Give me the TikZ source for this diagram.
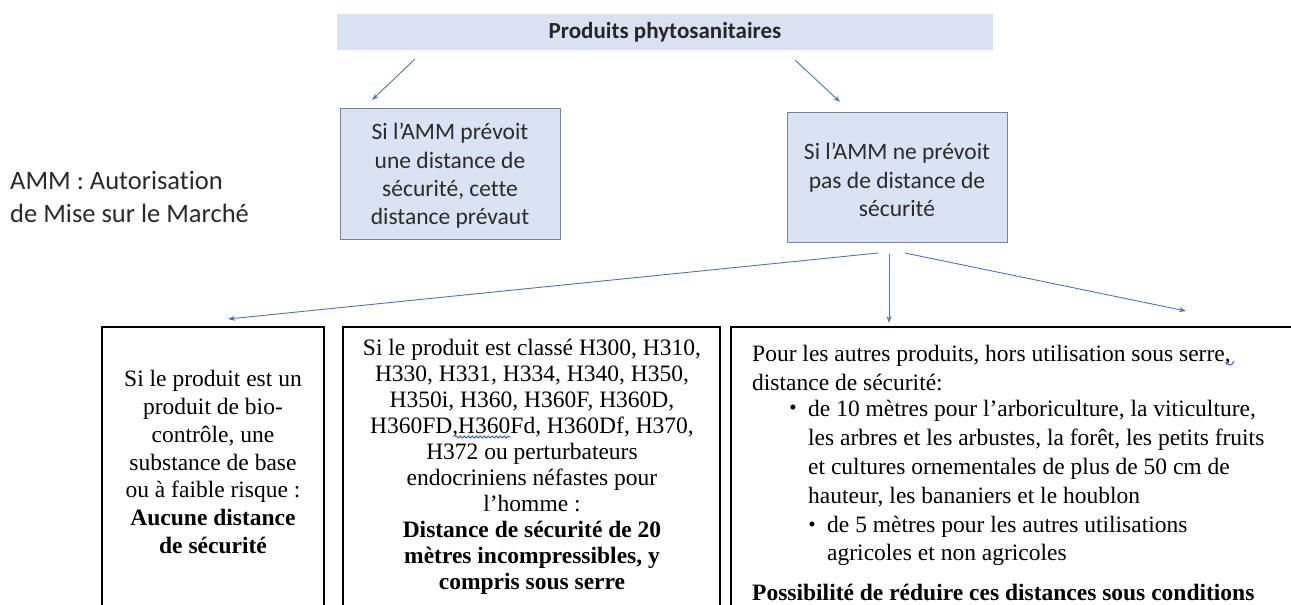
\documentclass[tikz,border=0pt]{standalone}
\usepackage{fontspec}
\setmainfont{Liberation Serif}
\newfontfamily\calib[Ligatures=NoCommon]{Carlito}
\usetikzlibrary{arrows.meta,decorations.pathmorphing}
\definecolor{boxblue}{HTML}{DAE3F3}
\definecolor{bannerblue}{HTML}{D9E1F2}
\definecolor{boxedge}{HTML}{76849A}
\definecolor{arrowc}{HTML}{5575B0}
\definecolor{sanstext}{HTML}{2A2A2A}
\definecolor{spell}{HTML}{3050D0}
\tikzset{
  arr/.style={draw=arrowc, line width=0.9pt, -{Stealth[length=7pt,width=5pt]}},
  bluebox/.style={fill=boxblue, draw=boxedge, line width=1pt},
  sanstxt/.style={inner sep=0pt, align=center, text=sanstext, font=\calib\fontsize{23.5}{28.4}\selectfont},
  serif/.style={inner sep=0pt, text=black, font=\fontsize{23.5}{27.8}\selectfont},
  tablebox/.style={draw=black, line width=1.1pt},
  squiggle/.style={draw=spell, line width=0.8pt, decorate, decoration={snake, amplitude=1pt, segment length=4pt}},
}
\begin{document}
\begin{tikzpicture}[x=1pt,y=-1pt]
\useasboundingbox (0,0) rectangle (1291,605);
\clip (0,0) rectangle (1291,605);
\fill[white] (0,0) rectangle (1291,605);

% banner
\fill[bannerblue] (337,14) rectangle (993,50);
\node[sanstxt, font=\calib\bfseries\fontsize{23}{28}\selectfont, text=black!85] (top) at (665,32) {Produits phytosanitaires};

% blue boxes
\draw[bluebox] (340,108) rectangle (560,239);
\node[sanstxt] (left) at (450,176) {Si l’AMM prévoit\\une distance de\\sécurité, cette\\distance prévaut};
\draw[bluebox] (787,112) rectangle (1007,242);
\node[sanstxt] (right) at (897,180) {Si l’AMM ne prévoit\\pas de distance de\\sécurité};

% AMM legend
\node[sanstxt, align=left, anchor=west, font=\calib\fontsize{26.5}{33}\selectfont] (amm) at (10,197) {AMM : Autorisation\\de Mise sur le Marché};

% bottom boxes
\draw[tablebox] (102,327) rectangle (324,640);
\draw[black, line width=2pt] (324,327) -- (324,640);
\draw[tablebox] (343,327) rectangle (720,640);
\draw[black, line width=2pt] (720,327) -- (720,640);
\draw[tablebox] (731,327) rectangle (1320,640);

\node[serif, align=center] (b1) at (213,462) {Si le produit est un\\produit de bio-\\contrôle, une\\substance de base\\ou à faible risque :\\\textbf{Aucune distance}\\\textbf{de sécurité}};

\node[serif, align=center, font=\fontsize{23.5}{26}\selectfont] (b2) at (532,467) {Si le produit est classé H300, H310,\\H330, H331, H334, H340, H350,\\H350i, H360, H360F, H360D,\\H360FD,H360Fd, H360Df, H370,\\H372 ou perturbateurs\\endocriniens néfastes pour\\l’homme :\\\textbf{Distance de sécurité de 20}\\\textbf{mètres incompressibles, y}\\\textbf{compris sous serre}};
\draw[squiggle] (455,437) -- (511,437);

\node[serif, align=left, anchor=west, font=\fontsize{23.5}{29}\selectfont] (b3a) at (752,368) {Pour les autres produits, hors utilisation sous serre,\\distance de sécurité:};
\draw[draw=spell, line width=0.9pt] (1226,362) .. controls (1229,366) and (1232,366) .. (1234,361);
\node[serif, font=\fontsize{21}{22}\selectfont] (bul1) at (793,410) {\textbullet};
\node[serif, align=left, anchor=west, font=\fontsize{23.5}{29}\selectfont] (b3b) at (808,454) {de 10 mètres pour l’arboriculture, la viticulture,\\les arbres et les arbustes, la forêt, les petits fruits\\et cultures ornementales de plus de 50 cm de\\hauteur, les bananiers et le houblon};
\node[serif, font=\fontsize{21}{22}\selectfont] (bul2) at (812,527) {\textbullet};
\node[serif, align=left, anchor=west, font=\fontsize{23.5}{28}\selectfont] (b3c) at (827,541) {de 5 mètres pour les autres utilisations\\agricoles et non agricoles};
\node[serif, anchor=west, font=\bfseries\fontsize{23.5}{28}\selectfont] (b3d) at (752,592) {Possibilité de réduire ces distances sous conditions};

% connector end points
\coordinate (s1) at (415,59);
\coordinate (e1) at (372,100);
\coordinate (s2) at (795,60);
\coordinate (e2) at (840,102);
\coordinate (s3) at (878,253);
\coordinate (e3) at (228,319);
\coordinate (s4) at (889,254);
\coordinate (e4) at (889,323);
\coordinate (s5) at (905,253);
\coordinate (e5) at (1186,311);

\draw[arr] (s1) -- (e1);
\draw[arr] (s2) -- (e2);
\draw[arr] (s3) -- (e3);
\draw[arr] (s4) -- (e4);
\draw[arr] (s5) -- (e5);
\end{tikzpicture}
\end{document}
